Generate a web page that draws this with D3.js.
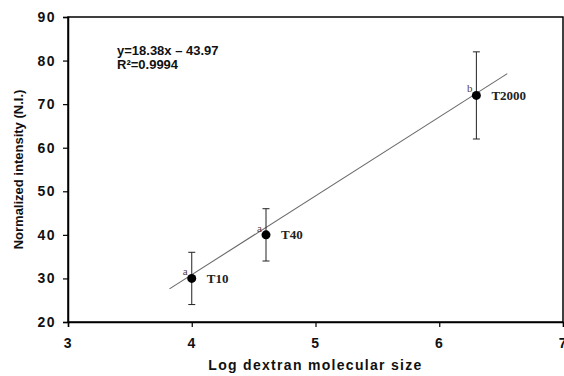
<!DOCTYPE html>
<html>
<head>
<meta charset="utf-8">
<script src="https://cdn.jsdelivr.net/npm/d3@7"></script>
<style>
  body { margin: 0; background: #fff; }
  svg { display: block; }
</style>
</head>
<body>
<div id="chart"></div>
<script>
// data
const labels = ["T10", "T40", "T2000"];
const logSize = [4.0, 4.6, 6.3];
const intensity = [30, 40, 72];
const errLow = [24, 34, 62];
const errHigh = [36, 46, 82];
const groups = ["a", "a", "b"];
const fitX = [3.82, 6.55];
const fitY = [27.6, 77.0];
const xTicks = [3, 4, 5, 6, 7];
const yTicks = [20, 30, 40, 50, 60, 70, 80, 90];
const eqText = ["y=18.38x \u2013 43.97", "R\u00b2=0.9994"];

const width = 564, height = 376;
const margin = {top: 17, right: 1, bottom: 54, left: 68};

const svg = d3.select("#chart").append("svg")
  .attr("width", width)
  .attr("height", height);

const x = d3.scaleLinear().domain([3, 7]).range([margin.left, width - margin.right]);
const y = d3.scaleLinear().domain([20, 90]).range([height - margin.bottom, margin.top]);

// frame
svg.append("rect")
  .attr("x", x(3)).attr("y", y(90))
  .attr("width", x(7) - x(3)).attr("height", y(20) - y(90))
  .attr("fill", "none").attr("stroke", "#000").attr("stroke-width", 1.5);

// axes
const xAxis = svg.append("g")
  .attr("transform", `translate(0,${y(20)})`)
  .call(d3.axisBottom(x).tickValues(xTicks).tickSize(5).tickPadding(11).tickFormat(d3.format("d")));
const yAxis = svg.append("g")
  .attr("transform", `translate(${x(3)},0)`)
  .call(d3.axisLeft(y).tickValues(yTicks).tickSize(5).tickPadding(7).tickFormat(d3.format("d")));

[xAxis, yAxis].forEach(g => {
  g.select(".domain").attr("stroke", "#000").attr("stroke-width", 1.5);
  g.selectAll(".tick line").attr("stroke", "#000").attr("stroke-width", 1.2);
  g.selectAll(".tick text")
    .attr("fill", "#111")
    .style("font-family", "Arial, 'Liberation Sans', sans-serif")
    .style("font-weight", "bold")
    .style("font-size", "14px")
    .style("letter-spacing", "1.5px");
});

// regression line
svg.append("line")
  .attr("x1", x(fitX[0])).attr("y1", y(fitY[0]))
  .attr("x2", x(fitX[1])).attr("y2", y(fitY[1]))
  .attr("stroke", "#6a6a6a").attr("stroke-width", 1.1);

// error bars
const pts = labels.map((l, i) => ({label: l, x: logSize[i], y: intensity[i], lo: errLow[i], hi: errHigh[i], g: groups[i]}));
const eb = svg.selectAll(".eb").data(pts).enter().append("g").attr("class", "eb");
eb.append("line")
  .attr("x1", d => x(d.x)).attr("x2", d => x(d.x))
  .attr("y1", d => y(d.lo)).attr("y2", d => y(d.hi))
  .attr("stroke", "#222").attr("stroke-width", 1);
eb.append("line")
  .attr("x1", d => x(d.x) - 3.5).attr("x2", d => x(d.x) + 3.5)
  .attr("y1", d => y(d.hi)).attr("y2", d => y(d.hi))
  .attr("stroke", "#222").attr("stroke-width", 1);
eb.append("line")
  .attr("x1", d => x(d.x) - 3.5).attr("x2", d => x(d.x) + 3.5)
  .attr("y1", d => y(d.lo)).attr("y2", d => y(d.lo))
  .attr("stroke", "#222").attr("stroke-width", 1);

// points
svg.selectAll("circle").data(pts).enter().append("circle")
  .attr("cx", d => x(d.x)).attr("cy", d => y(d.y))
  .attr("r", 4.5).attr("fill", "#000");

// point labels
svg.selectAll(".plabel").data(pts).enter().append("text")
  .attr("x", d => x(d.x) + 15).attr("y", d => y(d.y) + 4.5)
  .style("font-family", "'Times New Roman', 'Liberation Serif', serif")
  .style("font-weight", "bold")
  .style("font-size", "13px")
  .attr("fill", "#222")
  .text(d => d.label);

// significance letters
svg.selectAll(".glabel").data(pts).enter().append("text")
  .attr("x", d => x(d.x) - 4).attr("y", d => y(d.y) - 3)
  .attr("text-anchor", "end")
  .style("font-family", "'Times New Roman', 'Liberation Serif', serif")
  .style("font-size", "11px")
  .attr("fill", "#5a3a3a")
  .text(d => d.g);

// equation
svg.selectAll(".eq").data(eqText).enter().append("text")
  .attr("x", 117).attr("y", (d, i) => 55 + i * 14)
  .style("font-family", "Arial, 'Liberation Sans', sans-serif")
  .style("font-weight", "bold")
  .style("font-size", "13px")
  .attr("fill", "#111")
  .text(d => d);

// axis titles
svg.append("text")
  .attr("x", (x(3) + x(7)) / 2).attr("y", 370)
  .attr("text-anchor", "middle")
  .style("font-family", "Arial, 'Liberation Sans', sans-serif")
  .style("font-weight", "bold")
  .style("font-size", "14px")
  .style("letter-spacing", "1.3px")
  .attr("fill", "#111")
  .text("Log dextran molecular size");

svg.append("text")
  .attr("transform", `translate(23,${(y(20) + y(90)) / 2}) rotate(-90)`)
  .attr("text-anchor", "middle")
  .style("font-family", "Arial, 'Liberation Sans', sans-serif")
  .style("font-weight", "bold")
  .style("font-size", "13px")
  .attr("fill", "#111")
  .text("Normalized intensity (N.I.)");
</script>
</body>
</html>
